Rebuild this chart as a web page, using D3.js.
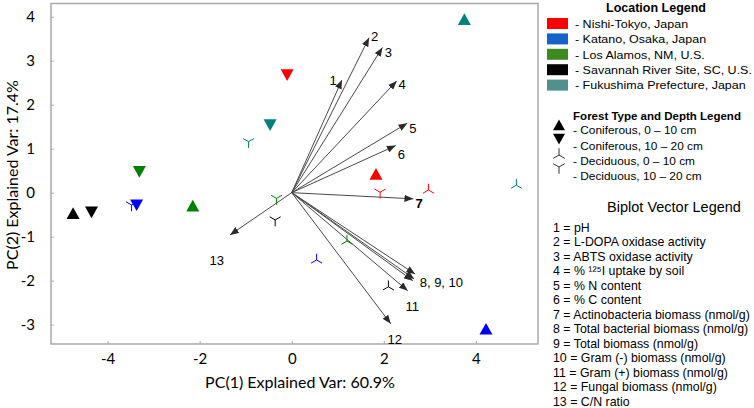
<!DOCTYPE html>
<html>
<head>
    <meta charset="utf-8">
    <script src="https://d3js.org/d3.v7.min.js"></script>
    <style>
        html, body {
            margin: 0;
            padding: 0;
            overflow: hidden;
            background: #fff;
        }

        .axis text {
            font-family: Lato, "Open Sans", sans-serif;
            font-size: 15px;
            fill: #000;
        }

        .legend text {
            font-family: "Liberation Sans", Arial, sans-serif;
            fill: #000;
        }
    </style>
</head>
<body>

<svg id="chart" width="754" height="408"></svg>

<script>
// sample scores (PC1, PC2), one per location x forest/depth
var locations = ["Nishi-Tokyo, Japan", "Katano, Osaka, Japan", "Los Alamos, NM, U.S.",
    "Savannah River Site, SC, U.S.", "Fukushima Prefecture, Japan"];
var plotColors = ["#ff0000", "#0000ff", "#008000", "#000000", "#008080"];
var legendColors = ["#ff0000", "#1762c6", "#3d8a20", "#050505", "#4f918d"];

var forestTypes = ["Coniferous, 0 \u2013 10 cm", "Coniferous, 10 \u2013 20 cm",
    "Deciduous, 0 \u2013 10 cm", "Deciduous, 10 \u2013 20 cm"];
var forestShapes = ["up", "down", "triUp", "triDown"];

// rows = locations, columns = forest types
var pc1Scores = [
    [1.83, -0.10, 2.97, 1.92],
    [4.22, -3.37, 0.54, -3.48],
    [-2.15, -3.31, 1.20, -0.33],
    [-4.75, -4.35, 2.10, -0.36],
    [3.75, -0.47, 4.88, -0.94]
];
var pc2Scores = [
    [0.40, 2.70, 0.06, 0.01],
    [-3.12, -0.26, -1.53, -0.28],
    [-0.32, 0.50, -1.10, -0.13],
    [-0.49, -0.42, -2.14, -0.62],
    [3.92, 1.56, 0.17, 1.16]
];

// biplot vectors (loading tips)
var vectorIds = [1, 2, 3, 4, 5, 6, 7, 8, 9, 10, 11, 12, 13];
var vectorX = [1.09, 1.68, 1.97, 2.28, 2.51, 2.26, 2.64, 2.68, 2.66, 2.63, 2.52, 2.15, -1.34];
var vectorY = [2.56, 3.52, 3.30, 2.54, 1.58, 1.07, -0.14, -1.85, -1.96, -2.00, -2.23, -2.98, -0.96];

var vectorLabels = ["1", "2", "3", "4", "5", "6", "7", "8, 9, 10", "11", "12", "13"];
var labelX = [0.90, 1.80, 2.10, 2.40, 2.63, 2.38, 2.77, 2.78, 2.62, 2.24, -1.63];
var labelY = [2.56, 3.56, 3.19, 2.45, 1.46, 0.88, -0.24, -2.04, -2.59, -3.33, -1.53];

var vectorNames = [
    "pH",
    "L-DOPA oxidase activity",
    "ABTS oxidase activity",
    "% \u00b9\u00b2\u2075I uptake by soil",
    "% N content",
    "% C content",
    "Actinobacteria biomass (nmol/g)",
    "Total bacterial biomass (nmol/g)",
    "Total biomass (nmol/g)",
    "Gram (-) biomass (nmol/g)",
    "Gram (+) biomass (nmol/g)",
    "Fungal biomass (nmol/g)",
    "C/N ratio"
];

var xTicks = [-4, -2, 0, 2, 4];
var yTicks = [-3, -2, -1, 0, 1, 2, 3, 4];
var xTitle = "PC(1) Explained Var: 60.9%";
var yTitle = "PC(2) Explained Var: 17.4%";


var svg = d3.select("#chart");

var x = d3.scaleLinear().domain([-5.23, 5.35]).range([51, 538]);
var y = d3.scaleLinear().domain([-3.44, 4.3]).range([344, 3.5]);

// frame
svg.append("rect")
    .attr("x", x.range()[0])
    .attr("y", y.range()[1])
    .attr("width", x.range()[1] - x.range()[0])
    .attr("height", y.range()[0] - y.range()[1])
    .attr("fill", "none")
    .attr("stroke", "#a9a9a9")
    .attr("stroke-width", 1.5);

svg.append("g")
    .attr("class", "axis")
    .attr("transform", "translate(0," + y.range()[0] + ")")
    .call(d3.axisBottom(x).tickValues(xTicks).tickSizeInner(-3).tickSizeOuter(0).tickPadding(9)
        .tickFormat(function(d) { return d; }));

svg.append("g")
    .attr("class", "axis")
    .attr("transform", "translate(" + x.range()[0] + ",0)")
    .call(d3.axisLeft(y).tickValues(yTicks).tickSizeInner(-3).tickSizeOuter(0).tickPadding(16)
        .tickFormat(function(d) { return d; }));

svg.selectAll(".axis .domain").remove();
svg.selectAll(".axis line").attr("stroke", "#a9a9a9");

svg.append("text")
    .attr("x", 300)
    .attr("y", 388)
    .attr("text-anchor", "middle")
    .style("font-family", "Lato, 'Open Sans', sans-serif")
    .style("font-size", "16px")
    .text(xTitle);

svg.append("text")
    .attr("transform", "translate(18,175) rotate(-90)")
    .attr("text-anchor", "middle")
    .style("font-family", "Lato, 'Open Sans', sans-serif")
    .style("font-size", "16px")
    .text(yTitle);

// arrowhead
svg.append("defs").append("marker")
    .attr("id", "head")
    .attr("viewBox", "0 0 10 8")
    .attr("refX", 10)
    .attr("refY", 4)
    .attr("markerUnits", "userSpaceOnUse")
    .attr("markerWidth", 9)
    .attr("markerHeight", 7)
    .attr("orient", "auto")
    .append("path")
    .attr("d", "M0,0 L10,4 L0,8 Z")
    .attr("fill", "#2a2a2a");

svg.append("g")
    .attr("class", "vectors")
    .selectAll("line")
    .data(vectorIds)
    .enter().append("line")
    .attr("x1", x(0))
    .attr("y1", y(0))
    .attr("x2", function(d, i) { return x(vectorX[i]); })
    .attr("y2", function(d, i) { return y(vectorY[i]); })
    .attr("stroke", "#4a4a4a")
    .attr("stroke-width", 1)
    .attr("marker-end", "url(#head)");

svg.append("g")
    .attr("class", "vector-labels")
    .selectAll("text")
    .data(vectorLabels)
    .enter().append("text")
    .attr("x", function(d, i) { return x(labelX[i]); })
    .attr("y", function(d, i) { return y(labelY[i]); })
    .attr("dy", "0.35em")
    .attr("text-anchor", function(d) { return d === "8, 9, 10" ? "start" : "middle"; })
    .style("font-family", "'Liberation Sans', Arial, sans-serif")
    .style("font-size", "13px")
    .style("font-weight", function(d) { return d === "7" ? "bold" : "normal"; })
    .text(function(d) { return d; });

// marker shapes
function shapePath(shape, s) {
    var h = s * 0.9;
    if (shape === "up") return "M0," + (-h * 0.6) + " L" + (s / 2) + "," + (h * 0.4) + " L" + (-s / 2) + "," + (h * 0.4) + " Z";
    if (shape === "down") return "M0," + (h * 0.6) + " L" + (s / 2) + "," + (-h * 0.4) + " L" + (-s / 2) + "," + (-h * 0.4) + " Z";
    var r = s * 0.45;
    var c = r * Math.cos(Math.PI / 6), sn = r * Math.sin(Math.PI / 6);
    if (shape === "triUp") return "M0,0 L0," + (-r) + " M0,0 L" + c + "," + sn + " M0,0 L" + (-c) + "," + sn;
    return "M0,0 L0," + r + " M0,0 L" + c + "," + (-sn) + " M0,0 L" + (-c) + "," + (-sn);
}

var points = [];
locations.forEach(function(loc, li) {
    forestShapes.forEach(function(shape, fi) {
        points.push({loc: li, shape: shape, px: pc1Scores[li][fi], py: pc2Scores[li][fi]});
    });
});

svg.append("g")
    .attr("class", "points")
    .selectAll("path")
    .data(points)
    .enter().append("path")
    .attr("transform", function(d) { return "translate(" + x(d.px) + "," + y(d.py) + ")"; })
    .attr("d", function(d) { return shapePath(d.shape, d.shape.indexOf("tri") === 0 ? 14 : 13); })
    .attr("fill", function(d) { return d.shape.indexOf("tri") === 0 ? "none" : plotColors[d.loc]; })
    .attr("stroke", function(d) { return plotColors[d.loc]; })
    .attr("stroke-width", function(d) { return d.shape.indexOf("tri") === 0 ? 1 : 0; });

// stretch a block of legend lines so its widest line spans `width` px
function fitWidth(sel, x0, width) {
    var widest = 0;
    sel.each(function() { widest = Math.max(widest, this.getComputedTextLength()); });
    var k = width / widest;
    sel.attr("transform", function() {
        return "translate(" + x0 + "," + d3.select(this).attr("data-y") + ") scale(" + k + ",1)";
    });
}

// legends
var legend = svg.append("g").attr("class", "legend");

legend.append("text")
    .attr("x", 656)
    .attr("y", 12)
    .attr("text-anchor", "middle")
    .style("font-size", "12.5px")
    .style("font-weight", "bold")
    .text("Location  Legend");

var locRows = legend.selectAll(".loc")
    .data(locations)
    .enter().append("g")
    .attr("class", "loc")
    .attr("transform", function(d, i) { return "translate(0," + (23.5 + i * 15.4) + ")"; });

locRows.append("rect")
    .attr("x", 547)
    .attr("y", -5.5)
    .attr("width", 21)
    .attr("height", 11)
    .attr("fill", function(d, i) { return legendColors[i]; });

var locText = locRows.append("text")
    .attr("data-y", 0)
    .attr("dy", "0.36em")
    .style("font-size", "11.8px")
    .text(function(d) { return "- " + d; });
fitWidth(locText, 575, 177);

legend.append("text")
    .attr("x", 657)
    .attr("y", 119.5)
    .attr("text-anchor", "middle")
    .style("font-size", "11.5px")
    .style("font-weight", "bold")
    .text("Forest Type and Depth Legend");

var forestText = legend.selectAll(".forest")
    .data(forestTypes)
    .enter().append("text")
    .attr("class", "forest")
    .attr("data-y", function(d, i) { return 130 + i * 15.3; })
    .attr("dy", "0.36em")
    .style("font-size", "11.8px")
    .text(function(d) { return "- " + d; });
fitWidth(forestText, 573, 130);

var glyphs = [
    {shape: "up", gy: 126},
    {shape: "down", gy: 138},
    {shape: "triUp", gy: 155},
    {shape: "triDown", gy: 167}
];
legend.selectAll(".glyph")
    .data(glyphs)
    .enter().append("path")
    .attr("class", "glyph")
    .attr("transform", function(d) { return "translate(559," + d.gy + ")"; })
    .attr("d", function(d) { return d.shape.indexOf("tri") === 0 ? shapePath(d.shape, 15) : shapePath(d.shape, 12); })
    .attr("fill", function(d) { return d.shape.indexOf("tri") === 0 ? "none" : "#000"; })
    .attr("stroke", "#333")
    .attr("stroke-width", function(d) { return d.shape.indexOf("tri") === 0 ? 1 : 0; });

legend.append("text")
    .attr("x", 674)
    .attr("y", 211.5)
    .attr("text-anchor", "middle")
    .style("font-size", "14.5px")
    .text("Biplot Vector Legend");

var vecText = legend.selectAll(".vec")
    .data(vectorNames)
    .enter().append("text")
    .attr("class", "vec")
    .attr("data-y", function(d, i) { return 227.3 + i * 14.53; })
    .attr("dy", "0.36em")
    .style("font-size", "12px")
    .text(function(d, i) { return vectorIds[i] + " = " + d; });
fitWidth(vecText, 553, 197);
</script>
</body>
</html>
